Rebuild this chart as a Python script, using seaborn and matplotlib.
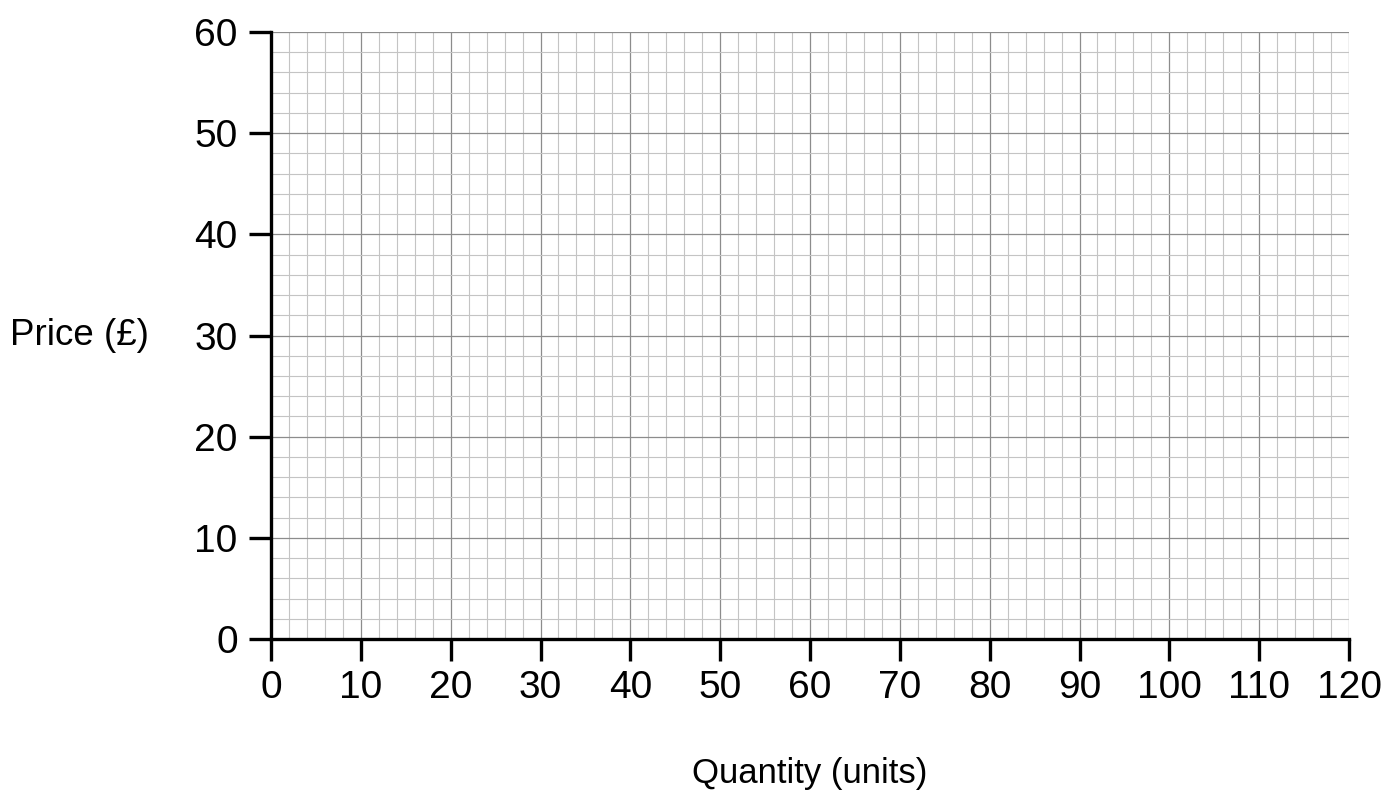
# -*- coding: utf-8 -*-

# 空白坐标纸：价格 - 数量
import numpy as np
import pandas as pd
import matplotlib
matplotlib.use('Agg')
import matplotlib.pyplot as plt
import seaborn as sns

# 坐标轴数据
x_ticks = [0, 10, 20, 30, 40, 50, 60, 70, 80, 90, 100, 110, 120]
y_ticks = [0, 10, 20, 30, 40, 50, 60]
x_minor = list(range(0, 121, 2))
y_minor = list(range(0, 61, 2))
x_label = 'Quantity (units)'
y_label = 'Price (£)'

sns.set_style('white')
plt.rcParams['font.family'] = ['Liberation Sans', 'DejaVu Sans']

fig = plt.figure(figsize=(13.92, 7.94), dpi=100)
ax = fig.add_axes([271 / 1392, 1 - 639 / 794, 1078 / 1392, 607 / 794])

# 空数据，只用于建立坐标系
df = pd.DataFrame({'q': pd.Series([], dtype=float), 'p': pd.Series([], dtype=float)})
sns.lineplot(data=df, x='q', y='p', ax=ax)

ax.set_xlim(x_ticks[0], x_ticks[-1])
ax.set_ylim(y_ticks[0], y_ticks[-1])
ax.set_xticks(x_ticks)
ax.set_yticks(y_ticks)
ax.set_xticks(x_minor, minor=True)
ax.set_yticks(y_minor, minor=True)

# 网格线
ax.grid(which='minor', color='#c4c4c4', linewidth=0.8)
ax.grid(which='major', color='#8c8c8c', linewidth=0.9)
ax.set_axisbelow(True)

sns.despine(ax=ax, top=True, right=True)
for s in ['left', 'bottom']:
    ax.spines[s].set_linewidth(2.4)
    ax.spines[s].set_color('black')
    ax.spines[s].set_zorder(5)

ax.tick_params(which='major', direction='out', length=16, width=2.4,
               bottom=True, left=True, colors='black', labelsize=28, pad=6)
ax.tick_params(which='minor', length=0)
ax.tick_params(axis='y', pad=8)

ax.set_xlabel(x_label, fontsize=25, color='black', va='center')
ax.set_ylabel(y_label, fontsize=26.5, color='black', rotation=0,
              ha='left', va='center')
ax.xaxis.set_label_coords(0.5, -0.221)
ax.yaxis.set_label_coords(-0.242, 0.5)

plt.savefig('out.png', dpi=100)
